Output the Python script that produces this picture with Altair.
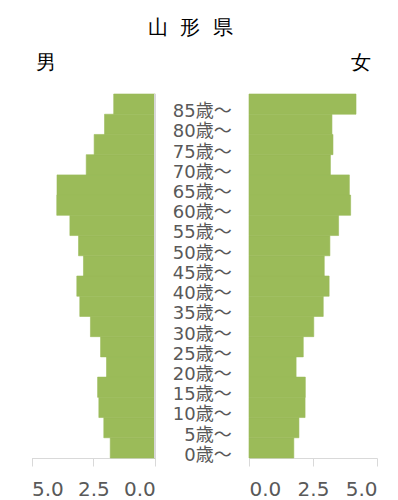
import altair as alt
import pandas as pd

ages = ["0歳～", "5歳～", "10歳～", "15歳～", "20歳～", "25歳～", "30歳～", "35歳～", "40歳～",
        "45歳～", "50歳～", "55歳～", "60歳～", "65歳～", "70歳～", "75歳～", "80歳～", "85歳～"]
male = [1.82, 2.08, 2.28, 2.33, 1.97, 2.21, 2.62, 3.05, 3.17,
        2.90, 3.10, 3.45, 3.98, 3.97, 2.79, 2.47, 2.05, 1.68]
female = [1.75, 1.95, 2.19, 2.20, 1.84, 2.12, 2.53, 2.90, 3.13,
          2.94, 3.16, 3.50, 3.97, 3.92, 3.18, 3.28, 3.24, 4.18]
ticks = [0, 2.5, 5]
title_text = "山\u00a0\u00a0形\u00a0\u00a0県"
male_label = "男"
female_label = "女"

df = pd.DataFrame({"age": ages, "male": male, "female": female})
order = ages[::-1]

GREEN = "#9BBB59"
GRAY = "#D9D9D9"
LABEL = "#595959"
FONT = "DejaVu Sans, Noto Sans CJK JP"

yenc = alt.Y("age:N", sort=order, axis=None,
             scale=alt.Scale(paddingInner=0, paddingOuter=0))

def axis():
    return alt.Axis(values=ticks, format=".1f", labelFontSize=20, labelFont="DejaVu Sans",
                    labelColor=LABEL, domainColor=GRAY, tickColor=GRAY, tickSize=8,
                    grid=False, title=None, orient="bottom", labelPadding=13)

left_bars = alt.Chart(df).mark_bar(color=GREEN, stroke=GREEN, strokeWidth=0.6).encode(
    x=alt.X("male:Q", scale=alt.Scale(domain=[0, 5], range=[155.3, 31.5]), axis=axis()),
    y=yenc,
)
left_rule = alt.Chart(df).mark_rule(color=GRAY, strokeWidth=1).encode(x=alt.datum(0))
left = alt.layer(left_bars, left_rule)

right = alt.Chart(df).mark_bar(color=GREEN, stroke=GREEN, strokeWidth=0.6).encode(
    x=alt.X("female:Q", scale=alt.Scale(domain=[0, 5], range=[249, 377]), axis=axis()),
    y=yenc,
)

labels = alt.Chart(df).mark_text(align="right", baseline="middle", fontSize=18,
                                 font=FONT, color=LABEL, dy=8).encode(
    y=yenc, x=alt.value(231.7), text="age:N")

ann = pd.DataFrame({"t": [title_text]})
title = alt.Chart(ann).mark_text(align="center", baseline="middle", fontSize=20,
                                 font="DejaVu Sans", color="#000000").encode(
    x=alt.value(190.5), y=alt.value(-66), text="t:N")
m = alt.Chart(pd.DataFrame({"t": [male_label]})).mark_text(
    align="center", baseline="middle", fontSize=20, font="DejaVu Sans", color="#000000").encode(
    x=alt.value(45.5), y=alt.value(-31), text="t:N")
f = alt.Chart(pd.DataFrame({"t": [female_label]})).mark_text(
    align="center", baseline="middle", fontSize=20, font="DejaVu Sans", color="#000000").encode(
    x=alt.value(360.5), y=alt.value(-31), text="t:N")

chart = alt.layer(left, right, labels, title, m, f).resolve_scale(x="independent").properties(
    width=398, height=364,
    autosize=alt.AutoSizeParams(type="none"),
    padding={"top": 94, "bottom": 42, "left": 0, "right": 0},
).configure_view(stroke=None)

chart.save("out.html", embed_options={"renderer": "svg", "actions": False})
